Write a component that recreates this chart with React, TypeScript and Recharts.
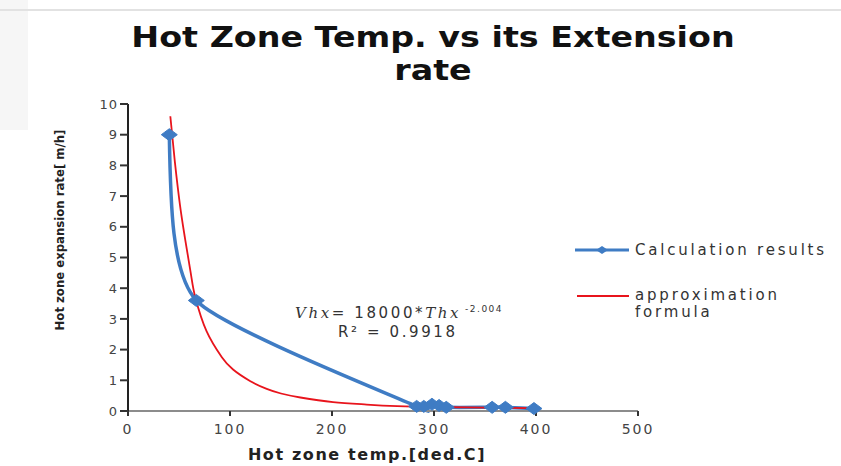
import { Line, LineChart, XAxis, YAxis } from 'recharts'

// calculation results (blue, with markers)
const calcTemp = [40.5, 67, 283, 290, 298, 305, 312, 357, 370, 398]
const calcRate = [9, 3.6, 0.15, 0.15, 0.22, 0.18, 0.12, 0.12, 0.12, 0.08]

// approximation formula curve (red)
const approxTemp = [41.5, 46, 51, 56, 61, 66, 77, 92, 103, 120, 136, 150, 169, 201, 234, 264, 300, 350, 400]
const approxRate = [9.6, 8.1, 6.7, 5.6, 4.6, 3.7, 2.6, 1.75, 1.35, 0.97, 0.72, 0.57, 0.44, 0.29, 0.21, 0.16, 0.13, 0.11, 0.09]

const xTicks = [0, 100, 200, 300, 400, 500]
const yTicks = [0, 1, 2, 3, 4, 5, 6, 7, 8, 9, 10]

const calcPoints = calcTemp.map((x, i) => ({ x, y: calcRate[i] }))
const approxPoints = approxTemp.map((x, i) => ({ x, y: approxRate[i] }))

const BLUE = '#3f7cc4'
const RED = '#e8141c'

// smoothed line through the points: cardinal spline inside (k = arm factor),
// end segments take a reflected tangent so they leave the end point like Excel does
function smoothCurve(k: number) {
  return (context: any) => {
    let pts: number[][] = []
    return {
      areaStart() {},
      areaEnd() {},
      lineStart() {
        pts = []
      },
      point(x: number, y: number) {
        pts.push([+x, +y])
      },
      lineEnd() {
        const n = pts.length
        if (!n) return
        context.moveTo(pts[0][0], pts[0][1])
        if (n === 1) return
        if (n === 2) {
          context.lineTo(pts[1][0], pts[1][1])
          return
        }
        for (let i = 0; i < n - 1; i++) {
          const p1 = pts[i]
          const p2 = pts[i + 1]
          let c1x = NaN
          let c1y = NaN
          let c2x = NaN
          let c2y = NaN
          if (i > 0) {
            const p0 = pts[i - 1]
            c1x = p1[0] + (p2[0] - p0[0]) * k
            c1y = p1[1] + (p2[1] - p0[1]) * k
          }
          if (i < n - 2) {
            const p3 = pts[i + 2]
            c2x = p2[0] - (p3[0] - p1[0]) * k
            c2y = p2[1] - (p3[1] - p1[1]) * k
          }
          if (i === 0) {
            // start: t0 = (3 * chord - t1) / 2
            const t1x = 3 * (p2[0] - c2x)
            const t1y = 3 * (p2[1] - c2y)
            c1x = p1[0] + (3 * (p2[0] - p1[0]) - t1x) / 6
            c1y = p1[1] + (3 * (p2[1] - p1[1]) - t1y) / 6
          }
          if (i === n - 2) {
            const t0x = 3 * (c1x - p1[0])
            const t0y = 3 * (c1y - p1[1])
            c2x = p2[0] - (3 * (p2[0] - p1[0]) - t0x) / 6
            c2y = p2[1] - (3 * (p2[1] - p1[1]) - t0y) / 6
          }
          context.bezierCurveTo(c1x, c1y, c2x, c2y, p2[0], p2[1])
        }
      },
    }
  }
}

const calcCurve = smoothCurve(1 / 10)
const approxCurve = smoothCurve(1 / 6)

function Diamond(props: any) {
  const { cx, cy } = props
  if (cx == null || cy == null) return null
  return (
    <polygon
      points={`${cx - 8},${cy} ${cx},${cy - 6} ${cx + 8},${cy} ${cx},${cy + 6}`}
      fill={BLUE}
      stroke={BLUE}
      strokeWidth={1}
    />
  )
}

const tickStyle = { fill: '#444', fontSize: 14, fontFamily: 'DejaVu Sans', letterSpacing: 2 }

const titleStyle = {
  position: 'absolute' as const,
  left: 0,
  width: 866,
  height: 33,
  textAlign: 'center' as const,
  fontFamily: 'DejaVu Sans',
  fontWeight: 700,
  fontSize: 28,
  lineHeight: '33px',
  color: '#111',
  transform: 'scaleX(1.19)',
  transformOrigin: '433px 0',
}

const noteStyle = {
  position: 'absolute' as const,
  fontFamily: 'DejaVu Sans',
  fontSize: 15,
  color: '#333',
  letterSpacing: 2.6,
  lineHeight: '18px',
  whiteSpace: 'nowrap' as const,
}

export default function App() {
  return (
    <div
      style={{
        position: 'absolute',
        left: 0,
        top: 0,
        width: 841,
        height: 466,
        background: '#fff',
        overflow: 'hidden',
      }}
    >
      <div style={{ position: 'absolute', left: 0, top: 0, width: 28, height: 130, background: '#f6f6f6' }} />
      <div style={{ position: 'absolute', left: 0, top: 9, width: 841, height: 2, background: '#e2e2e2' }} />

      <div style={{ ...titleStyle, top: 21 }}>Hot Zone Temp. vs its Extension</div>
      <div style={{ ...titleStyle, top: 54 }}>rate</div>

      <LineChart
        width={841}
        height={466}
        margin={{ top: 104, right: 203, left: 68, bottom: 0 }}
        style={{ position: 'absolute', left: 0, top: 0 }}
      >
        <XAxis
          type="number"
          dataKey="x"
          domain={[0, 500]}
          ticks={xTicks}
          height={55}
          tickSize={5}
          tickMargin={8}
          axisLine={{ stroke: '#8c8c8c', strokeWidth: 2 }}
          tickLine={{ stroke: '#333', strokeWidth: 2 }}
          tick={tickStyle}
          label={{
            value: 'Hot zone temp.[ded.C]',
            position: 'insideBottom',
            offset: 6,
            dx: -16,
            style: { fill: '#222', fontSize: 16, fontWeight: 700, fontFamily: 'DejaVu Sans', letterSpacing: 1.6 },
          }}
        />
        <YAxis
          type="number"
          dataKey="y"
          domain={[0, 10]}
          ticks={yTicks}
          width={60}
          tickSize={8}
          axisLine={{ stroke: '#222', strokeWidth: 2 }}
          tickLine={{ stroke: '#333', strokeWidth: 2 }}
          tick={{ ...tickStyle, fontSize: 13, letterSpacing: 1 }}
        />
        <Line
          data={calcPoints}
          dataKey="y"
          type={calcCurve as any}
          stroke={BLUE}
          strokeWidth={3.5}
          dot={<Diamond />}
          activeDot={false}
          isAnimationActive={false}
        />
        <Line
          data={approxPoints}
          dataKey="y"
          type={approxCurve as any}
          stroke={RED}
          strokeWidth={1.8}
          dot={false}
          activeDot={false}
          isAnimationActive={false}
        />
      </LineChart>

      <div
        style={{
          position: 'absolute',
          left: 59,
          top: 230,
          transform: 'translate(-50%, -50%) rotate(-90deg)',
          whiteSpace: 'nowrap',
          fontFamily: 'Liberation Sans Narrow, DejaVu Sans Condensed',
          fontWeight: 700,
          fontSize: 13,
          color: '#222',
        }}
      >
        Hot zone expansion rate[ m/h]
      </div>

      <div style={{ ...noteStyle, left: 295, top: 300 }}>
        <i style={{ fontFamily: 'DejaVu Serif' }}>Vhx</i>= 18000*<i style={{ fontFamily: 'DejaVu Serif' }}>Thx</i>
        <sup style={{ fontSize: 9, letterSpacing: 1.5, marginLeft: 4 }}>-2.004</sup>
      </div>
      <div style={{ ...noteStyle, left: 338, top: 323 }}>R² = 0.9918</div>

      <div
        style={{
          position: 'absolute',
          left: 575,
          top: 239,
          fontFamily: 'DejaVu Sans',
          fontSize: 15,
          color: '#333',
          letterSpacing: 2.8,
          lineHeight: '17px',
        }}
      >
        <div style={{ display: 'flex', alignItems: 'center', height: 22 }}>
          <svg width={57} height={12}>
            <line x1={0} y1={6} x2={54} y2={6} stroke={BLUE} strokeWidth={3} />
            <polygon points="21,6 27,2 33,6 27,10" fill={BLUE} />
          </svg>
          <span style={{ marginLeft: 3 }}>Calculation results</span>
        </div>
        <div style={{ display: 'flex', alignItems: 'flex-start', marginTop: 26 }}>
          <svg width={57} height={18}>
            <line x1={2} y1={9} x2={54} y2={9} stroke={RED} strokeWidth={1.8} />
          </svg>
          <span style={{ marginLeft: 3 }}>
            approximation
            <br />
            formula
          </span>
        </div>
      </div>
    </div>
  )
}
